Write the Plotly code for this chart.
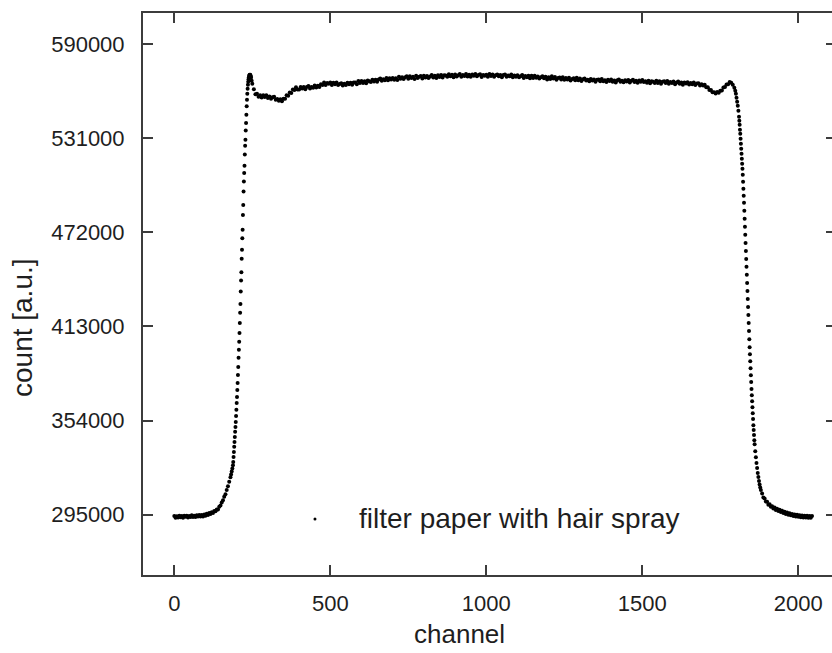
import plotly.graph_objects as go

# ---------------- data ----------------
base_left_ch = list(range(0, 180, 4))
base_left_counts = [
    294200, 293100, 294000, 293300, 294400, 293400, 294100, 293100, 294400, 293700,
    294400, 293300, 294200, 293600, 294700, 293500, 294400, 293500, 294600, 293900,
    294800, 293800, 294800, 293900, 295100, 294400, 295600, 294800, 296000, 295500,
    296600, 296100, 297300, 297100, 298300, 298300, 299900, 300800, 302700, 304100,
    306200, 307800, 310400, 312800, 315600,
]

rise_ch = [180, 182, 184, 186, 188] + list(range(189, 247)) + [248]
rise_counts = [
    318500, 320200, 322000, 324000, 326000,
    328000, 331200, 334300, 337500, 340600, 343700, 346900, 350000, 353100, 356900,
    360700, 365000, 368800, 373200, 377600, 382600, 387600, 393300, 398300, 403300,
    408900, 415200, 421500, 427100, 434800, 441700, 447000, 455400, 461000, 468300,
    473500, 482800, 489000, 497600, 503800, 509100, 513700, 520800, 526200, 530000,
    535800, 540500, 545700, 550900, 555100, 558800, 562000, 564500, 566300, 567900,
    569200, 570100, 570600, 570700, 570700, 570400, 569800, 568800,
    566900,
]

plateau_ch = list(range(250, 1781, 5))
plateau_counts = [
    565000, 561600, 558500, 558800, 556900, 557800, 556400, 557800, 556700, 557800,
    556200, 557100, 555700, 556600, 556900, 555000, 555500, 554400, 555400, 554100,
    555700, 555600, 557900, 557600, 559600, 559300, 561400, 561100, 562800, 561500,
    561500, 563100, 562100, 563100, 561600, 563000, 563700, 562100, 563000, 562500,
    563900, 562700, 563800, 563000, 564800, 564200, 565800, 564300, 565500, 565000,
    565800, 564200, 565700, 564700, 565900, 564200, 564900, 565400, 563900, 565000,
    564200, 565700, 564700, 565700, 564400, 565900, 565800, 564800, 566800, 565500,
    566800, 565500, 566600, 565300, 567100, 566700, 566100, 567600, 566500, 567600,
    566300, 567700, 568400, 566900, 567900, 567300, 568700, 567200, 568500, 567800,
    568700, 567600, 568500, 567400, 569400, 568200, 569200, 568000, 569200, 569700,
    568200, 569700, 568700, 569500, 568100, 570100, 568700, 569500, 569900, 568400,
    570100, 569000, 569900, 568700, 569600, 570500, 569000, 570000, 568700, 570400,
    569300, 570600, 569000, 570400, 570200, 569400, 571000, 569800, 570700, 569200,
    570800, 569600, 570400, 571100, 569500, 570600, 569900, 571200, 569600, 570700,
    569400, 570800, 570000, 571100, 569700, 570500, 571000, 569300, 570600, 570100,
    570700, 569500, 571200, 569900, 570800, 569400, 570400, 570900, 569700, 570500,
    569200, 570500, 570800, 569400, 570200, 569700, 570800, 569100, 570300, 569400,
    570400, 569200, 569800, 570600, 568700, 569900, 569100, 570000, 568500, 570100,
    568700, 570100, 568900, 569600, 568400, 569200, 569800, 568500, 569500, 567800,
    569200, 568100, 569700, 568400, 569300, 567600, 568700, 569000, 567800, 569200,
    567500, 568700, 567800, 568800, 567100, 568100, 568500, 567300, 568800, 567300,
    568300, 566800, 567900, 568400, 567100, 567500, 566700, 568100, 567100, 567700,
    566300, 567600, 567800, 566600, 568000, 566700, 567200, 566100, 567500, 566800,
    567700, 566300, 567100, 565900, 567300, 567700, 566300, 566900, 566000, 567300,
    566400, 567400, 565900, 567000, 567600, 566100, 566900, 565700, 567100, 566300,
    567400, 566100, 566600, 565700, 566900, 565300, 566700, 566300, 565600, 566900,
    565600, 566700, 565100, 566300, 566700, 565600, 566800, 565100, 566100, 565500,
    566400, 564800, 565800, 566400, 565000, 565800, 564500, 565900, 565200, 566000,
    564600, 565600, 564800, 565900, 564300, 565200, 565400, 563900, 564800, 563900,
    564500, 562800, 562800, 561100, 561200, 559800, 559800, 559000, 559900, 559400,
    560700, 560900, 562700, 563000, 564600, 564800, 566100,
]

fall_ch = [1785, 1790, 1795, 1798, 1800, 1802, 1804, 1806, 1808] + list(range(1810, 1861)) + list(range(1862, 1881, 2))
fall_counts = [
    565700, 564500, 562600, 560700, 558800, 556300, 553800, 551300, 548200,
    544400, 541900, 539400, 536300, 533800, 530600, 527500, 524400, 521200, 518100,
    515000, 511800, 508100, 503600, 499300, 494900, 490500, 485500, 480500, 475400,
    470400, 465300, 460300, 455300, 450300, 445300, 440200, 435200, 430200, 425100,
    420100, 415100, 410100, 405000, 400000, 395600, 391200, 386800, 382400, 378100,
    373700, 369900, 366100, 362400, 358600, 354900, 351100, 348000, 344900, 341700,
    339200,
    334800, 331000, 327400, 324300, 321100, 318600, 316100, 313900, 312100, 310500,
]

base_right_ch = list(range(1884, 2045, 4))
base_right_counts = [
    308200, 305800, 305200, 303300, 303100, 301300, 301600, 300000, 300300, 298800,
    299500, 297900, 298700, 297300, 298100, 296700, 297500, 296000, 296900, 295500,
    296300, 294900, 295900, 294600, 295500, 294100, 295100, 293900, 294900, 293700,
    294700, 293400, 294500, 293300, 294400, 293200, 294300, 293100, 294200, 293000,
    294100,
]

x_ticks = [0, 500, 1000, 1500, 2000]
y_ticks = [295000, 354000, 413000, 472000, 531000, 590000]
y_tick_labels = ["295000", "354000", "413000", "472000", "531000", "590000"]
series_name = "filter paper with hair spray"
x_title = "channel"
y_title = "count [a.u.]"

channels = base_left_ch + rise_ch + plateau_ch + fall_ch + base_right_ch
counts = base_left_counts + rise_counts + plateau_counts + fall_counts + base_right_counts

# ---------------- figure ----------------
FONT = "Arial, 'Liberation Sans', Helvetica, sans-serif"
AX = "#3c3c3c"
TXT = "#1e1e1e"
X_RANGE = [-100.3, 2108]
Y_RANGE = [257200, 609400]

fig = go.Figure()
fig.add_trace(go.Scatter(
    x=channels, y=counts, mode="markers", name=series_name,
    marker=dict(color="black", size=4, line=dict(width=0)),
    showlegend=False, hoverinfo="skip",
))
# helper trace so the right-hand tick axis gets drawn
fig.add_trace(go.Scatter(x=[None], y=[None], yaxis="y2", mode="markers",
                         showlegend=False, hoverinfo="skip"))

axis_common = dict(
    showgrid=False, zeroline=False, ticks="inside", ticklen=10, tickwidth=2,
    tickcolor=AX, linecolor=AX, linewidth=2,
    tickfont=dict(family=FONT, size=22, color=TXT),
)

fig.update_layout(
    width=832, height=653,
    margin=dict(l=143, r=0, t=13, b=78),
    paper_bgcolor="white", plot_bgcolor="white",
    font=dict(family=FONT, color=TXT),
    hovermode=False,
    xaxis=dict(range=X_RANGE, tickvals=x_ticks, showline=True, mirror="ticks",
               ticklabelstandoff=8, **axis_common),
    yaxis=dict(range=Y_RANGE, tickvals=y_ticks, ticktext=y_tick_labels,
               showline=True, mirror=False, ticklabelstandoff=12, **axis_common),
    yaxis2=dict(range=Y_RANGE, tickvals=y_ticks, overlaying="y", side="right",
                showticklabels=False, showline=False, showgrid=False, zeroline=False,
                ticks="inside", ticklen=6, tickwidth=2, tickcolor=AX),
    annotations=[
        dict(text=x_title, xref="paper", yref="paper", x=0.4594, y=-0.105,
             xanchor="center", yanchor="middle", showarrow=False,
             font=dict(family=FONT, size=26, color=TXT)),
        dict(text=y_title, xref="paper", yref="paper", x=-0.1756, y=0.4395,
             xanchor="center", yanchor="middle", showarrow=False, textangle=-90,
             font=dict(family=FONT, size=28, color=TXT)),
        dict(text=series_name, xref="paper", yref="paper", x=0.3106, y=0.1014,
             xanchor="left", yanchor="middle", showarrow=False,
             font=dict(family=FONT, size=28, color=TXT)),
    ],
    shapes=[
        dict(type="circle", xref="paper", yref="paper",
             xsizemode="pixel", ysizemode="pixel",
             xanchor=0.2496, yanchor=0.0996,
             x0=-1.5, x1=1.5, y0=-1.5, y1=1.5,
             fillcolor="black", line=dict(width=0)),
    ],
)

fig.write_html(
    "out.html",
    config={"displayModeBar": False, "staticPlot": True},
    post_script="document.body.style.margin='0';document.body.style.overflow='hidden';",
)
